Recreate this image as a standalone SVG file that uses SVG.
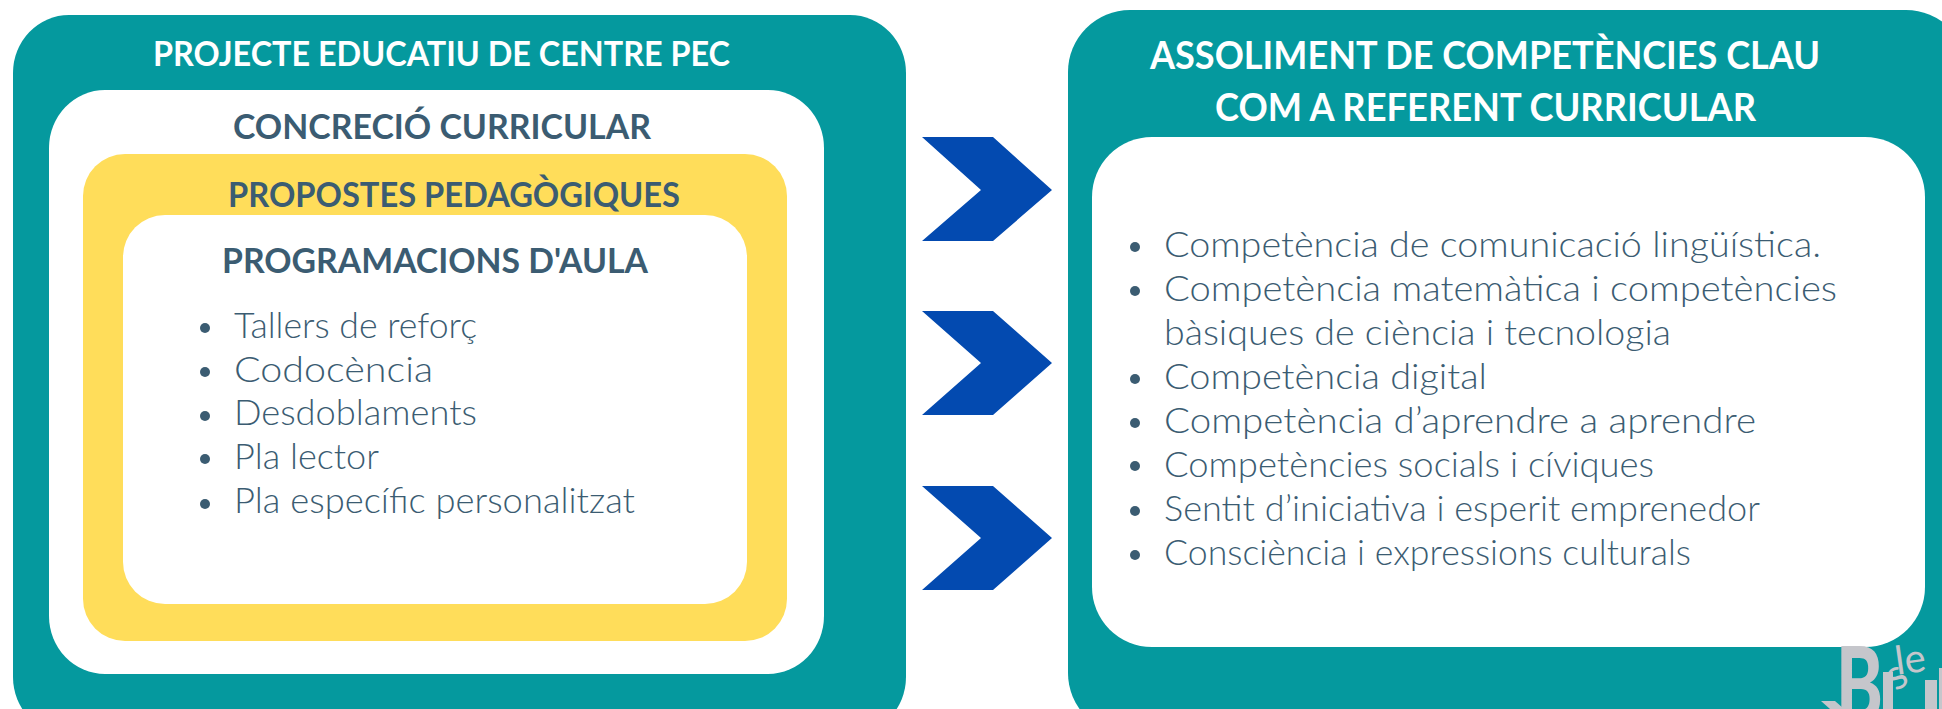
<svg xmlns="http://www.w3.org/2000/svg" width="1942" height="709" viewBox="0 0 1942 709">
<style>
text{font-family:"Lato","Liberation Sans",sans-serif}
.h{font-weight:700;font-size:34px;fill:#3b5c72}
.w{fill:#fff}
.b{font-weight:700;font-size:38px;fill:#fff}
.l{font-weight:300;font-size:35px;fill:#3b5c72}
.d{fill:#3b5c72}
.t{fill:#05999e}
.y{fill:#ffdd5a}
.c{fill:#034ab0}
.g{fill:#c5c6cb}
</style>
<rect width="1942" height="709" fill="#fff"/>
<g id="pec">
<rect class="t" x="13" y="15" width="893" height="720" rx="56" ry="58"/>
<text class="h w" x="153" y="66" textLength="577" lengthAdjust="spacingAndGlyphs">PROJECTE EDUCATIU DE CENTRE PEC</text>
</g>
<g id="concrecio">
<rect class="w" x="49" y="90" width="775" height="584" rx="56" ry="58"/>
<text class="h" x="233" y="139" textLength="418" lengthAdjust="spacingAndGlyphs">CONCRECIÓ CURRICULAR</text>
</g>
<g id="propostes">
<rect class="y" x="83" y="154" width="704" height="487" rx="42" ry="42"/>
<text class="h" x="228" y="207" textLength="452" lengthAdjust="spacingAndGlyphs">PROPOSTES PEDAGÒGIQUES</text>
</g>
<g id="programacions">
<rect class="w" x="123" y="215" width="624" height="389" rx="42" ry="42"/>
<text class="h" x="222" y="273" textLength="426" lengthAdjust="spacingAndGlyphs">PROGRAMACIONS D'AULA</text>
<circle class="d" cx="205" cy="328" r="5"/><text class="l" x="234" y="338" textLength="243" lengthAdjust="spacingAndGlyphs">Tallers de reforç</text>
<circle class="d" cx="205" cy="372" r="5"/><text class="l" x="234" y="382" textLength="199" lengthAdjust="spacingAndGlyphs">Codocència</text>
<circle class="d" cx="205" cy="416" r="5"/><text class="l" x="234" y="425" textLength="243" lengthAdjust="spacingAndGlyphs">Desdoblaments</text>
<circle class="d" cx="205" cy="459" r="5"/><text class="l" x="234" y="469" textLength="145" lengthAdjust="spacingAndGlyphs">Pla lector</text>
<circle class="d" cx="205" cy="504" r="5"/><text class="l" x="234" y="513" textLength="401" lengthAdjust="spacingAndGlyphs">Pla específic personalitzat</text>
</g>
<g id="connectors">
<polygon class="c" points="922,137 993,137 1052,190 993,241 922,241 981,190"/>
<polygon class="c" points="922,311 993,311 1052,363 993,415 922,415 981,363"/>
<polygon class="c" points="922,486 993,486 1052,538 993,590 922,590 981,538"/>
</g>
<g id="assoliment">
<rect class="t" x="1068" y="10" width="900" height="725" rx="62" ry="62"/>
<text class="b" x="1150" y="69" textLength="670" lengthAdjust="spacingAndGlyphs">ASSOLIMENT DE COMPETÈNCIES CLAU</text>
<text class="b" x="1215" y="121" textLength="541" lengthAdjust="spacingAndGlyphs">COM A REFERENT CURRICULAR</text>
<rect class="w" x="1092" y="137" width="833" height="510" rx="60" ry="60"/>
<circle class="d" cx="1135" cy="247" r="5"/><text class="l" x="1164" y="257" textLength="657" lengthAdjust="spacingAndGlyphs">Competència de comunicació lingüística.</text>
<circle class="d" cx="1135" cy="291" r="5"/><text class="l" x="1164" y="301" textLength="673" lengthAdjust="spacingAndGlyphs">Competència matemàtica i competències</text>
<text class="l" x="1164" y="345" textLength="507" lengthAdjust="spacingAndGlyphs">bàsiques de ciència i tecnologia</text>
<circle class="d" cx="1135" cy="379" r="5"/><text class="l" x="1164" y="389" textLength="323" lengthAdjust="spacingAndGlyphs">Competència digital</text>
<circle class="d" cx="1135" cy="423" r="5"/><text class="l" x="1164" y="433" textLength="592" lengthAdjust="spacingAndGlyphs">Competència d’aprendre a aprendre</text>
<circle class="d" cx="1135" cy="466" r="5"/><text class="l" x="1164" y="477" textLength="490" lengthAdjust="spacingAndGlyphs">Competències socials i cíviques</text>
<circle class="d" cx="1135" cy="511" r="5"/><text class="l" x="1164" y="521" textLength="596" lengthAdjust="spacingAndGlyphs">Sentit d’iniciativa i esperit emprenedor</text>
<circle class="d" cx="1135" cy="555" r="5"/><text class="l" x="1164" y="565" textLength="527" lengthAdjust="spacingAndGlyphs">Consciència i expressions culturals</text>
</g>
<g id="logo">
<polygon class="g" points="1821,701 1835,701 1843,708 1843,709 1830,709"/>
<text class="g" font-size="104" font-weight="900" transform="translate(1836,722) scale(.68,1)">B</text>
<rect class="g" x="1883" y="672" width="10" height="37"/>
<text class="g" font-size="40" transform="translate(1897,675) rotate(-8)">le</text>
<text class="g" font-size="42" transform="translate(1896,692) rotate(-35)">s</text>
<rect class="g" x="1925" y="680" width="12" height="29"/>
<rect class="g" x="1939" y="668" width="3" height="41"/>
</g>
</svg>
